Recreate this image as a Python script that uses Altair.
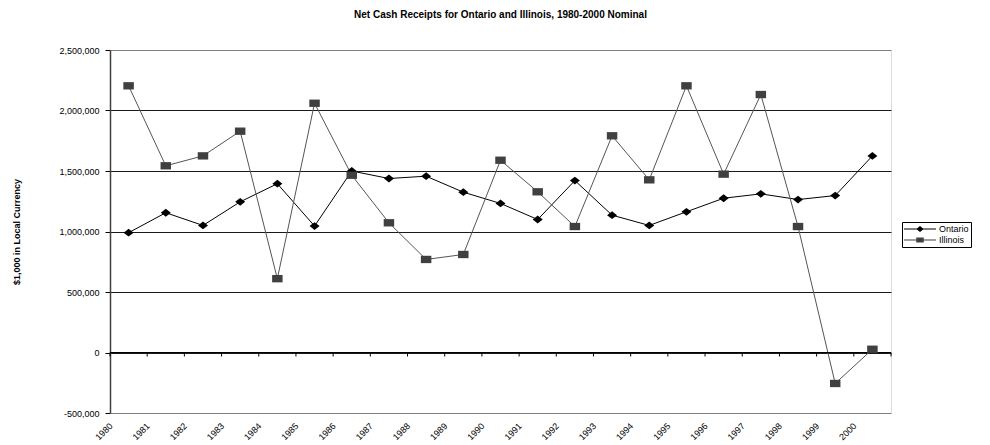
import altair as alt
import pandas as pd

# ---------------- data ----------------
years = list(range(1980, 2001))
ontario = [990000, 1155000, 1050000, 1245000, 1395000, 1045000, 1500000,
           1438000, 1457000, 1325000, 1232000, 1099000, 1421000, 1135000,
           1050000, 1163000, 1275000, 1311000, 1264000, 1297000, 1625000]
illinois = [2204000, 1543000, 1625000, 1829000, 610000, 2060000, 1465000,
            1072000, 769000, 810000, 1589000, 1328000, 1041000, 1791000,
            1427000, 2204000, 1474000, 2132000, 1041000, -256000, 27000]
series_names = ["Ontario", "Illinois"]
y_ticks = [-500000, 0, 500000, 1000000, 1500000, 2000000, 2500000]

title_text = "Net Cash Receipts for Ontario and Illinois, 1980-2000 Nominal"
y_title = "$1,000 in Local Currency"

# ---------------- styling ----------------
FONT = "Liberation Sans"
W, H = 781, 363
marker_colors = ["#000000", "#404040"]
line_colors = ["#000000", "#555555"]
marker_paths = ["M-1,0L0,-0.78L1,0L0,0.78Z", "M-1,-0.7H1V0.7H-1Z"]
marker_sizes = [100, 110]
legend_paths = [
    "M-1,-0.1H5.4V0.1H-1Z M1.45,0L2.2,-0.6L2.95,0L2.2,0.6Z",
    "M-1,-0.1H5.4V0.1H-1Z M1.45,-0.5H2.95V0.5H1.45Z",
]

rows = []
for name, vals in zip(series_names, [ontario, illinois]):
    for yr, v in zip(years, vals):
        rows.append({"year": yr, "value": v, "series": name})
df = pd.DataFrame(rows)

bounds = pd.DataFrame({"b": [yr - 0.5 for yr in years] + [years[-1] + 0.5]})

x_scale = alt.Scale(domain=[years[0] - 0.5, years[-1] + 0.5], nice=False, zero=False)
y_scale = alt.Scale(domain=[y_ticks[0], y_ticks[-1]], nice=False, zero=False)

x_axis = alt.Axis(values=years, format="d", labelAngle=-45, labelAlign="right",
                  labelBaseline="middle", ticks=False, tickSize=0, domain=False,
                  grid=False, labelFontSize=9, labelFont=FONT, labelColor="#000",
                  labelPadding=11, labelOffset=-18, title=None, labelOverlap=False,
                  labelBound=False, labelFlush=False)
y_axis = alt.Axis(
    values=y_ticks,
    labelExpr="datum.value < 0 ? '-' + format(-datum.value, ',d') : format(datum.value, ',d')",
    tickSize=5, tickColor="#000", domainColor="#404040", domainWidth=1.5,
    gridColor={"condition": {"test": "datum.value >= 2500000 || datum.value <= -500000",
                             "value": "#808080"}, "value": "#1a1a1a"},
    gridWidth=1, labelFontSize=9, labelFont=FONT, labelColor="#000", labelPadding=6,
    labelOverlap=False,
    title=y_title, titleFontSize=9, titleFont=FONT, titleFontWeight="bold",
    titleColor="#000", titleAngle=-90, titleAlign="center", titleBaseline="middle",
    titleX=-94, titleY=H / 2,
)
x_enc = alt.X("year:Q", scale=x_scale, axis=x_axis, title=None)
y_enc = alt.Y("value:Q", scale=y_scale, axis=y_axis, title=y_title)

layers = []
for name, lc in zip(series_names, line_colors):
    layers.append(
        alt.Chart(df).transform_filter(alt.datum.series == name)
        .mark_line(color=lc, strokeWidth=1).encode(x=x_enc, y=y_enc)
    )

# tick marks on the zero line at category boundaries
ticks = alt.Chart(bounds).mark_rule(color="#000", strokeWidth=1, y2Offset=4).encode(
    x=alt.X("b:Q", scale=x_scale, axis=x_axis, title=None),
    y=alt.datum(0, scale=y_scale, axis=y_axis, title=y_title),
    y2=alt.datum(0),
)
zero = alt.Chart(bounds).mark_rule(color="#000", strokeWidth=1).encode(
    y=alt.datum(0, scale=y_scale, axis=y_axis, title=y_title)
)
layers += [ticks, zero]

for name, mc, path, sz in zip(series_names, marker_colors, marker_paths, marker_sizes):
    layers.append(
        alt.Chart(df).transform_filter(alt.datum.series == name)
        .mark_point(filled=True, shape=path, size=sz, color=mc, opacity=1)
        .encode(x=x_enc, y=y_enc)
    )

legend = alt.Legend(
    orient="none", legendX=792, legendY=172, title=None, symbolSize=100,
    symbolOpacity=1, symbolStrokeWidth=0, labelFontSize=9, labelFont=FONT,
    labelColor="#000", padding=2, strokeColor="#000", fillColor="white",
    rowPadding=1, labelOffset=25, cornerRadius=0,
)
legend_layer = alt.Chart(df).mark_point(filled=True, opacity=0).encode(
    x=x_enc, y=y_enc,
    color=alt.Color("series:N", scale=alt.Scale(domain=series_names, range=marker_colors), legend=legend),
    shape=alt.Shape("series:N", scale=alt.Scale(domain=series_names, range=legend_paths), legend=legend),
)
layers.append(legend_layer)

chart = alt.layer(*layers).properties(
    width=W, height=H,
    title=alt.TitleParams(title_text, fontSize=10, fontWeight="bold", font=FONT,
                          color="#000", anchor="middle", offset=26),
    autosize=alt.AutoSizeParams(type="none"),
    padding={"left": 102, "top": 42, "right": 90, "bottom": 31},
).configure_view(stroke="#808080", strokeWidth=1).configure(font=FONT, background="white")

chart.save("out.html", embed_options={"renderer": "svg", "actions": False})
